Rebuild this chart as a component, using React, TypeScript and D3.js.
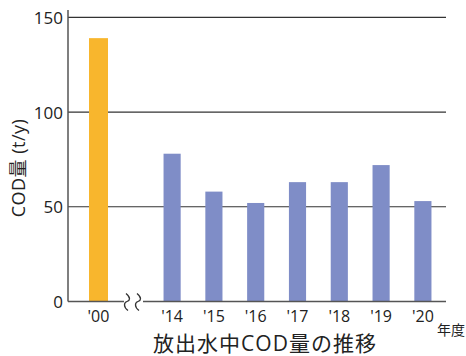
import React from "react";
import * as d3 from "d3";

// Annual COD discharge (t/y)
const baseYear = ["'00"];
const baseValue = [139];
const recentYears = ["'14", "'15", "'16", "'17", "'18", "'19", "'20"];
const recentValues = [78, 58, 52, 63, 63, 72, 53];
const yTicks = [0, 50, 100, 150];

const W = 466;
const H = 356;
const FONT = "'Open Sans', 'Noto Sans CJK JP', sans-serif";
const ORANGE = "#F8B62D";
const BLUE = "#7F8DC7";

export default function App() {
  const left = 68;
  const right = 446;
  const y = d3.scaleLinear().domain([0, 150]).range([301.5, 17.3]);

  // Broken x axis: one segment for the base year, one for recent years
  const xA = d3.scaleBand<string>().domain(baseYear).range([68, 129]).padding(0.525);
  const xB = d3
    .scaleBand<string>()
    .domain(recentYears)
    .range([151, 444])
    .paddingInner(0.59)
    .paddingOuter(0.3);

  const breakL = 124;
  const breakR = 143;
  const y0 = y(0);

  const squiggle = (cx: number) => {
    const top = y0 - 8;
    const bot = y0 + 9;
    const p = d3.path();
    p.moveTo(cx - 1, top);
    p.bezierCurveTo(cx + 4, top + 4, cx + 3, y0 - 1, cx, y0);
    p.bezierCurveTo(cx - 3, y0 + 1, cx - 4, bot - 4, cx + 1, bot);
    return p.toString();
  };

  return (
    <svg width={W} height={H} style={{ position: "absolute", left: 0, top: 0 }} fontFamily={FONT}>
      <rect width={W} height={H} fill="#fff" />
      {/* gridlines */}
      {yTicks.filter((t) => t > 0).map((t) => (
        <line key={t} x1={left} x2={right} y1={y(t)} y2={y(t)} stroke="#333" strokeWidth={1.2} />
      ))}
      {/* bars */}
      {baseYear.map((k, i) => (
        <rect key={k} x={xA(k)} width={xA.bandwidth()} y={y(baseValue[i])} height={y0 - y(baseValue[i])} fill={ORANGE} />
      ))}
      {recentYears.map((k, i) => (
        <rect key={k} x={xB(k)} width={xB.bandwidth()} y={y(recentValues[i])} height={y0 - y(recentValues[i])} fill={BLUE} />
      ))}
      {/* y axis */}
      <line x1={left} x2={left} y1={10} y2={y0} stroke="#555" strokeWidth={1.5} />
      {/* baseline with break marks */}
      <line x1={left} x2={breakL} y1={y0} y2={y0} stroke="#555" strokeWidth={1.5} />
      <line x1={breakR} x2={right} y1={y0} y2={y0} stroke="#555" strokeWidth={1.5} />
      <path d={squiggle(breakL + 3)} fill="none" stroke="#333" strokeWidth={1.3} />
      <path d={squiggle(breakL + 14)} fill="none" stroke="#333" strokeWidth={1.3} />
      {/* y tick labels */}
      {yTicks.map((t) => (
        <text key={t} x={63} y={y(t) + 2} textAnchor="end" dominantBaseline="middle" fontSize={17} fill="#222">
          {t}
        </text>
      ))}
      {/* x tick labels */}
      {baseYear.map((k) => (
        <text key={k} x={(xA(k) ?? 0) + xA.bandwidth() / 2} y={322} textAnchor="middle" fontSize={16} fill="#222">
          {k}
        </text>
      ))}
      {recentYears.map((k) => (
        <text key={k} x={(xB(k) ?? 0) + xB.bandwidth() / 2} y={322} textAnchor="middle" fontSize={16} fill="#222">
          {k}
        </text>
      ))}
      <text x={437} y={335} fontSize={14} fill="#222">年度</text>
      {/* titles */}
      <text transform="translate(24.5,168) rotate(-90)" textAnchor="middle" fontSize={18} fill="#222" letterSpacing={0.5}>
        COD量 (t/y)
      </text>
      <text x={265} y={351} textAnchor="middle" fontSize={21} fill="#222" letterSpacing={1}>
        放出水中COD量の推移
      </text>
    </svg>
  );
}
